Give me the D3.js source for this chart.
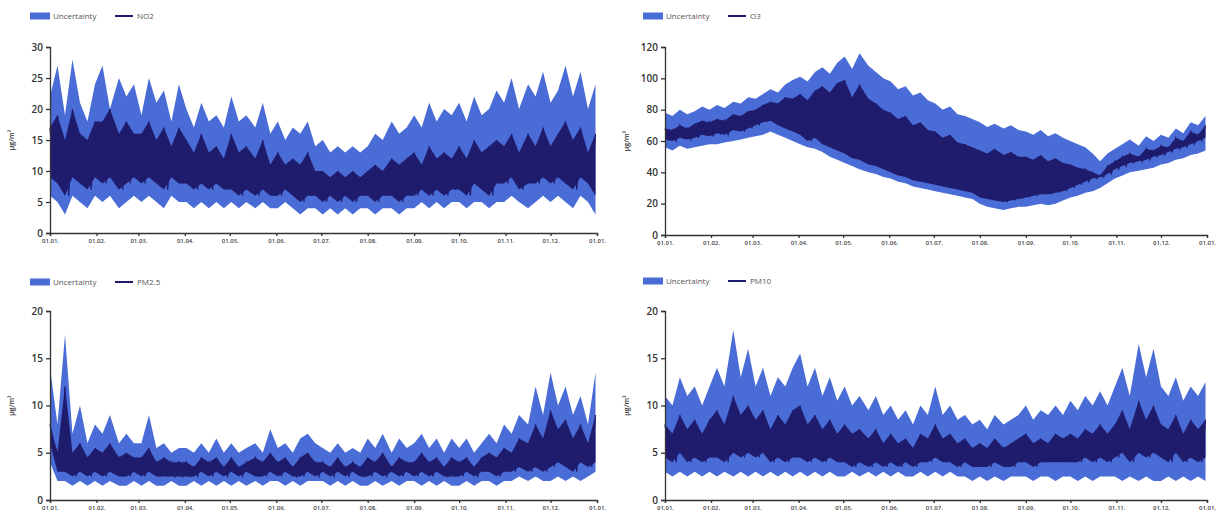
<!DOCTYPE html>
<html>
<head>
<meta charset="utf-8">
<script src="https://cdn.jsdelivr.net/npm/d3@7"></script>
<style>
  body { margin: 0; background: #fff; }
  svg { display: block; font-family: "Open Sans", "DejaVu Sans", sans-serif; }
</style>
</head>
<body>
<svg id="chart" width="1221" height="516"></svg>
<script>
// values read every ~5 days through one year (73 samples)
// NO2
const no2BandHi = [22,27,19,28,21,18,24, 27,20,25,22,24, 19,25,21,23,18,24, 20,17,21,18,19,17, 22,18,19,17,21,16, 18,15,17,16,18,14, 15,13,14,13,14,13, 14,16,15,18,16,17, 19,17,21,18,20,19, 21,18,22,19,20,23, 21,25,20,24,22,26, 21,23,27,22,26,20,24];
const no2BandLo = [6,5,3,6,5,4,6, 5,6,4,5,6, 5,6,5,4,6,5, 5,4,5,4,5,4, 5,4,5,4,5,4, 4,5,4,3,4,4, 3,4,3,4,3,4, 4,3,4,4,3,4, 4,5,4,5,4,5, 5,4,5,5,4,5, 5,6,5,4,5,6, 5,6,5,4,6,5,3];
const no2LineHi = [17,19,15,20,16,15,18, 18,20,16,18,16, 16,18,15,17,14,17, 15,13,16,13,14,12, 16,13,14,12,15,11, 13,11,12,11,13,10, 10,9,10,9,10,9, 10,11,10,12,11,12, 13,11,14,12,13,12, 14,12,15,13,14,15, 14,16,13,16,14,17, 14,16,18,15,17,13,16];
const no2LineLo = [9,8,6,9,8,7,9, 8,9,7,8,9, 8,9,8,7,9,8, 8,7,8,7,8,7, 7,6,7,6,7,6, 6,7,6,5,6,6, 5,6,5,6,5,6, 6,5,6,6,5,6, 6,7,6,7,6,7, 7,6,8,7,6,8, 8,9,7,8,8,9, 8,9,8,7,9,8,6];

// O3
const o3BandHi = [78,76,80,77,79,82,80, 83,81,85,84,88, 87,90,93,91,96,99, 101,98,104,107,103,110, 114,106,116,108,104,100, 98,93,95,89,91,86, 84,80,82,77,76,74, 72,69,71,68,70,67, 66,64,67,63,65,62, 60,58,56,52,47,52, 55,58,61,57,63,60, 64,62,68,65,72,70,76];
const o3BandLo = [56,54,57,55,56,57,58, 58,59,60,61,62, 63,64,66,64,62,60, 58,56,55,53,50,48, 46,44,42,40,39,37, 36,34,33,31,30,29, 28,27,26,25,24,23, 20,18,17,16,17,18, 18,19,20,19,20,22, 24,25,27,28,30,33, 36,38,40,41,42,43, 45,46,48,49,51,52,54];
const o3LineHi = [68,67,70,68,71,73,72, 74,73,77,76,79, 80,83,85,84,88,87, 90,86,92,95,91,97, 99,88,96,87,84,80, 78,74,76,70,72,67, 66,62,64,59,58,56, 54,52,55,51,53,50, 50,48,51,47,49,46, 45,43,42,40,38,44, 47,50,52,50,55,54, 57,56,62,60,66,64,70];
const o3LineLo = [61,60,62,61,62,64,63, 65,64,67,66,68, 70,72,73,70,68,66, 64,60,62,58,56,54, 52,49,48,45,44,42, 40,38,37,35,34,33, 32,31,30,29,28,27, 24,23,22,21,22,23, 24,25,26,26,27,28, 30,32,34,36,37,39, 42,44,46,47,48,50, 51,53,55,56,58,60,62];

// PM2.5
const pm25BandHi = [14,8,17.5,7,10,6,8, 7,9,6,7,6, 6,9,5.5,6,5,5.5, 5.5,5,6,5,6.5,5, 6,5,5.5,6,5,7.5, 5.5,6,5,6.5,7,6, 5.5,5,6,5,5.5,5, 6.5,5.5,7,5,6.5,5.5, 6,7,5.5,6.5,5,6.5, 5.5,6.5,5,6,7,6, 8,7,9,8,12,9, 13.5,10,12,9,11,8,13.5];
const pm25BandLo = [4,2,2,1.5,2,1.5,2, 1.5,2,1.5,1.5,2, 1.5,2,1.5,1.5,2,1.5, 1.5,2,1.5,2,1.5,2, 1.5,2,1.5,2,1.5,2, 2,1.5,2,1.5,2,2, 2,1.5,2,1.5,2,1.5, 1.5,2,1.5,2,1.5,2, 2,1.5,2,1.5,2,1.5, 1.5,2,1.5,2,2,1.5, 2,2,2.5,2,2.5,2, 2,2.5,2,2.5,2,2.5,3];
const pm25LineHi = [8,5,12,5,6,4.5,5.5, 5,6,4.5,5,4.5, 4.5,5.5,4,4.5,4,4, 4,3.5,4.5,4,4.5,3.5, 4.5,3.5,4,4.5,4,5, 4,4.5,3.5,4.5,5,4, 4,3.5,4.5,3.5,4,3.5, 4.5,4,5,3.5,4.5,4, 4,5,4,4.5,3.5,4.5, 4,4.5,3.5,4.5,5,4.5, 5.5,5,6.5,6,8,6.5, 9.5,7.5,8.5,6.5,8,6,9];
const pm25LineLo = [6,3,3,2.5,3,2.5,3, 2.5,3,2.5,2.5,3, 2.5,3,2.5,2.5,2.5,2.5, 2.5,2.5,3,2.5,3,2.5, 3,2.5,3,2.5,2.5,3, 2.5,3,2.5,2.5,3,2.5, 3,2.5,3,2.5,3,2.5, 2.5,3,2.5,3,2.5,3, 2.5,3,2.5,3,2.5,2.5, 2.5,3,2.5,3,3,2.5, 3,3,3.5,3,3.5,3, 3.5,4,3.5,3,4,3.5,4];

// PM10
const pm10BandHi = [11,10,13,11,12,10,12, 14,12,18,13,16, 12,14,11,13,12,14, 15.5,12,14,11,13,10.5, 12,10,11,9.5,11,9, 10,8.5,9.5,8,10,9, 12,9,10,8.5,9,8, 8.5,7.5,9,8,8.5,9, 10,8.5,9.5,9,10,9, 10.5,9.5,11,10,11.5,10, 12,14,11,16.5,13,16, 12,11,13,10.5,12,11,12.5];
const pm10BandLo = [3,2.5,3,2.5,3,2.5,3, 2.5,3,2.5,3,2.5, 3,2.5,3,2.5,3,2.5, 3,2.5,3,2.5,3,2.5, 2.5,3,2.5,3,2.5,3, 2.5,3,2.5,2.5,3,2.5, 3,2.5,3,2.5,2.5,2, 2.5,2,2.5,2,2.5,2.5, 2.5,2,2.5,2.5,2,2.5, 2.5,2,2.5,2,2.5,2.5, 2.5,2,2.5,2,2.5,2, 2,2.5,2,2.5,2,2.5,2];
const pm10LineHi = [8,7,9,7.5,8.5,7,8.5, 9.5,8,11,9,10, 8.5,9.5,7.5,9,8,9.5, 10,8,9,7.5,8.5,7, 8,7,7.5,6.5,7.5,6, 7,6,6.5,5.5,7,6.5, 8,6.5,7,6,6.5,5.5, 6,5.5,6.5,5.5,6,6.5, 7,6,6.5,6,7,6.5, 7,6.5,7.5,7,8,7, 8,9.5,7.5,10.5,8.5,10, 8,7.5,9,7,8.5,7.5,8.5];
const pm10LineLo = [4.5,4,5,4,4.5,4,4.5, 4.5,4,5,4.5,5, 4.5,5,4,4.5,4,4.5, 4.5,4,4.5,4,4.5,4, 4,3.5,4,3.5,4,3.5, 4,3.5,4,3.5,4,4, 4.5,4,4,3.5,4,3.5, 3.5,3.5,4,3.5,3.5,4, 4,3.5,4,4,4,4, 4,4,4.5,4,4.5,4, 4.5,5,4,5,4.5,5, 4.5,4,5,4,4.5,4,4.5];

const no2Ticks = [0, 5, 10, 15, 20, 25, 30];
const o3Ticks = [0, 20, 40, 60, 80, 100, 120];
const pmTicks = [0, 5, 10, 15, 20];

const bandColor = '#4a6cd6';
const lineColor = '#1f1c6e';
const inkColor = '#333';

const start = new Date(2019, 0, 1);
const end = new Date(2020, 0, 1);
const dates = d3.range(73).map(i => d3.timeDay.offset(start, Math.round(i * 364 / 72)));

const svg = d3.select('#chart');

const panels = [
  { name: 'NO2', hi: no2BandHi, lo: no2BandLo, lhi: no2LineHi, llo: no2LineLo, max: 30, ticks: no2Ticks,
    x0: 50, x1: 597, yTop: 47, yBot: 233, legendX: 30, legendY: 16 },
  { name: 'O3', hi: o3BandHi, lo: o3BandLo, lhi: o3LineHi, llo: o3LineLo, max: 120, ticks: o3Ticks,
    x0: 665, x1: 1207, yTop: 47, yBot: 235, legendX: 643, legendY: 16 },
  { name: 'PM2.5', hi: pm25BandHi, lo: pm25BandLo, lhi: pm25LineHi, llo: pm25LineLo, max: 20, ticks: pmTicks,
    x0: 50, x1: 597, yTop: 311, yBot: 500, legendX: 30, legendY: 282 },
  { name: 'PM10', hi: pm10BandHi, lo: pm10BandLo, lhi: pm10LineHi, llo: pm10LineLo, max: 20, ticks: pmTicks,
    x0: 665, x1: 1207, yTop: 311, yBot: 500, legendX: 643, legendY: 281 }
];

panels.forEach(p => {
  const g = svg.append('g');

  const x = d3.scaleTime().domain([start, end]).range([p.x0, p.x1]);
  const y = d3.scaleLinear().domain([0, p.max]).range([p.yBot, p.yTop]);

  // uncertainty band
  const band = d3.area()
    .x((d, i) => x(dates[i]))
    .y0((d, i) => y(p.lo[i]))
    .y1((d, i) => y(p.hi[i]));

  g.append('path')
    .datum(p.hi)
    .attr('fill', bandColor)
    .attr('d', band);

  // concentration line (hourly swing shown as its envelope)
  const envelope = d3.area()
    .x((d, i) => x(dates[i]))
    .y0((d, i) => y(p.llo[i]))
    .y1((d, i) => y(p.lhi[i]));

  g.append('path')
    .datum(p.lhi)
    .attr('fill', lineColor)
    .attr('d', envelope);

  const zig = [];
  dates.forEach((d, i) => {
    zig.push([d, p.lhi[i]]);
    if (i < dates.length - 1) zig.push([d3.timeHour.offset(d, 60), p.llo[i]]);
  });
  g.append('path')
    .datum(zig)
    .attr('fill', 'none')
    .attr('stroke', lineColor)
    .attr('stroke-width', 1.2)
    .attr('d', d3.line().x(d => x(d[0])).y(d => y(d[1])));

  // axes
  g.append('g')
    .attr('transform', `translate(${p.x0},0)`)
    .call(d3.axisLeft(y).tickValues(p.ticks).tickSize(4).tickPadding(3))
    .call(a => a.select('.domain').attr('stroke', inkColor).attr('stroke-width', 1.3))
    .call(a => a.selectAll('.tick line').attr('stroke', inkColor).attr('stroke-width', 1.3))
    .call(a => a.selectAll('.tick text').attr('fill', inkColor)
      .attr('font-size', 10).attr('font-weight', 600)
      .attr('font-family', '"Open Sans", sans-serif'));

  g.append('g')
    .attr('transform', `translate(0,${p.yBot})`)
    .call(d3.axisBottom(x).ticks(d3.timeMonth.every(1)).tickFormat(d3.timeFormat('%d.%m.')).tickSize(3).tickPadding(3))
    .call(a => a.select('.domain').attr('stroke', inkColor).attr('stroke-width', 1.3))
    .call(a => a.selectAll('.tick line').attr('stroke', inkColor).attr('stroke-width', 1.3))
    .call(a => a.selectAll('.tick text').attr('fill', '#444')
      .attr('font-size', 6).attr('font-weight', 600)
      .attr('font-family', '"Open Sans", sans-serif'));

  // unit label
  g.append('text')
    .attr('transform', `translate(${p.x0 - 36},${(p.yTop + p.yBot) / 2}) rotate(-90)`)
    .attr('text-anchor', 'middle')
    .attr('font-size', 7)
    .attr('font-weight', 600)
    .attr('fill', inkColor)
    .text('µg/m³');

  // legend
  const lg = g.append('g').attr('transform', `translate(${p.legendX},${p.legendY})`);
  lg.append('rect').attr('x', 0).attr('y', -3.5).attr('width', 20).attr('height', 7).attr('fill', bandColor);
  lg.append('text').attr('x', 23).attr('y', 3).attr('font-size', 8).attr('fill', '#555').text('Uncertainty');
  lg.append('line').attr('x1', 85).attr('x2', 103).attr('y1', 0).attr('y2', 0)
    .attr('stroke', lineColor).attr('stroke-width', 2);
  lg.append('text').attr('x', 107).attr('y', 3).attr('font-size', 8).attr('fill', '#555').text(p.name);
});
</script>
</body>
</html>
